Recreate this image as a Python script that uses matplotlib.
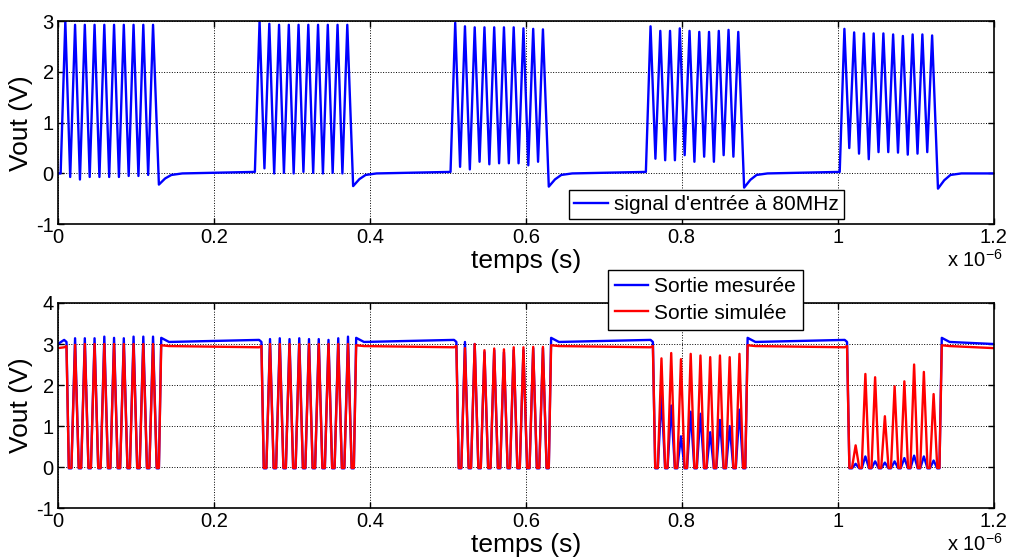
import matplotlib
matplotlib.use("Agg")
from matplotlib import pyplot as plt
from matplotlib.ticker import FormatStrFormatter

# Arial-like look of the original MATLAB figure
plt.rcParams['font.family'] = ['Liberation Sans', 'DejaVu Sans']
plt.rcParams['mathtext.fontset'] = 'custom'
plt.rcParams['mathtext.rm'] = 'Liberation Sans'
plt.rcParams['axes.unicode_minus'] = False  # MATLAB prints "-1" with a plain hyphen

# ---- data (time in microseconds, voltage in volts) ----
PERIOD = 0.0125  # 80 MHz

# input bursts: start of the rising edge
burst_start = [0.0035, 0.2526, 0.5035, 0.754, 1.0026]

# input signal: 10 peaks and 9 troughs per burst
in_peaks_1 = [3.0, 2.93, 2.93, 2.93, 2.93, 2.93, 2.93, 2.93, 2.93, 2.93]
in_peaks_2 = [3.0, 2.95, 2.93, 2.93, 2.93, 2.93, 2.93, 2.93, 2.93, 2.93]
in_peaks_3 = [2.97, 2.9, 2.88, 2.88, 2.88, 2.88, 2.88, 2.86, 2.85, 2.84]
in_peaks_4 = [2.9, 2.81, 2.81, 2.86, 2.81, 2.79, 2.79, 2.81, 2.83, 2.79]
in_peaks_5 = [2.85, 2.78, 2.76, 2.76, 2.76, 2.74, 2.71, 2.74, 2.74, 2.72]

in_troughs_1 = [-0.07, -0.12, -0.07, -0.07, -0.07, -0.07, -0.05, -0.05, -0.03]
in_troughs_2 = [0.1, 0.0, 0.01, 0.0, 0.03, 0.01, 0.0, 0.01, 0.0]
in_troughs_3 = [0.13, 0.08, 0.23, 0.18, 0.2, 0.2, 0.2, 0.16, 0.23]
in_troughs_4 = [0.29, 0.26, 0.26, 0.36, 0.23, 0.33, 0.23, 0.36, 0.33]
in_troughs_5 = [0.5, 0.39, 0.28, 0.42, 0.42, 0.41, 0.37, 0.39, 0.42]

in_undershoot = [-0.22, -0.25, -0.26, -0.28, -0.3]
in_idle = [0.0, 0.03, 0.03, 0.03, 0.03, 0.0]  # level before each burst / at the end

# output bursts: time of the falling edge
out_start = [0.011, 0.261, 0.511, 0.763, 1.012]

# output signal: 9 peaks per burst (troughs sit at ~0 V)
meas_peaks_1 = [3.14, 3.14, 3.14, 3.18, 3.15, 3.14, 3.18, 3.18, 3.18]
meas_peaks_2 = [3.12, 3.14, 3.12, 3.14, 3.12, 3.12, 3.1, 3.14, 3.18]
meas_peaks_3 = [3.05, 3.0, 2.8, 2.85, 2.8, 2.85, 2.85, 2.9, 2.9]
meas_peaks_4 = [1.75, 1.5, 0.75, 1.35, 1.3, 0.85, 1.15, 1.0, 1.4]
meas_peaks_5 = [0.08, 0.26, 0.14, 0.11, 0.14, 0.22, 0.28, 0.26, 0.16]

sim_peaks_1 = [2.98, 3.0, 3.0, 3.0, 3.0, 3.0, 3.0, 3.0, 3.0]
sim_peaks_2 = [3.0, 3.0, 3.0, 3.0, 3.0, 3.0, 3.0, 3.0, 3.0]
sim_peaks_3 = [2.9, 3.0, 2.85, 2.89, 2.87, 2.92, 2.92, 2.93, 2.93]
sim_peaks_4 = [2.65, 2.78, 2.63, 2.76, 2.72, 2.68, 2.72, 2.68, 2.76]
sim_peaks_5 = [0.53, 2.27, 2.19, 1.24, 1.97, 2.09, 2.5, 2.32, 1.78]

meas_idle, meas_overshoot, meas_floor = 3.05, 3.15, -0.03
sim_idle, sim_overshoot, sim_floor = 2.95, 2.97, -0.02

x_ticks = [0, 0.2, 0.4, 0.6, 0.8, 1.0, 1.2]


# Build the input trace as vertices: rise, peak/trough pairs, undershoot, recovery
def input_trace():
    peaks = [in_peaks_1, in_peaks_2, in_peaks_3, in_peaks_4, in_peaks_5]
    troughs = [in_troughs_1, in_troughs_2, in_troughs_3, in_troughs_4, in_troughs_5]
    t, v = [0.0], [in_idle[0]]
    for b, t0 in enumerate(burst_start):
        t.append(t0); v.append(in_idle[b])
        for k in range(10):
            t.append(t0 + 0.006 + k * PERIOD); v.append(peaks[b][k])
            if k < 9:
                t.append(t0 + 0.006 + (k + 0.5) * PERIOD); v.append(troughs[b][k])
        end = t0 + 0.126
        t += [end, end + 0.008, end + 0.016, end + 0.03]
        v += [in_undershoot[b], in_undershoot[b] * 0.45, -0.03, 0.0]
    t.append(1.2); v.append(in_idle[-1])
    return t, v


# Build an output trace: idle high, drop to 0, narrow peaks, back to idle
def output_trace(peak_lists, idle, overshoot, floor):
    t, v = [0.0], [idle - 0.05]
    for b, td in enumerate(out_start):
        t += [td - 0.003, td, td + 0.003]
        v += [overshoot - 0.05, idle, floor]
        for k, p in enumerate(peak_lists[b]):
            pk = td + 0.011 + k * PERIOD
            t += [pk - 0.0047, pk, pk + 0.0047]
            v += [floor, p, floor]
        ret = td + 0.1215
        t += [ret - 0.003, ret, ret + 0.01]
        v += [floor, overshoot, idle]
    t.append(1.2); v.append(idle - 0.05)
    return t, v


def style_axes(ax, ylim, yticks):
    ax.set_xlim(0, 1.2)
    ax.set_ylim(*ylim)
    ax.set_xticks(x_ticks)
    ax.set_yticks(yticks)
    ax.xaxis.set_major_formatter(FormatStrFormatter('%g'))
    ax.grid(True, color='k', linestyle=':', linewidth=0.7)
    ax.tick_params(direction='in', length=4, width=1, labelsize=14.5,
                   top=True, right=True, pad=3)
    for s in ax.spines.values():
        s.set_linewidth(1.2)
    ax.set_xlabel('temps (s)', fontsize=19, labelpad=1)
    ax.set_ylabel('Vout (V)', fontsize=19)
    ax.yaxis.set_label_coords(-0.027, 0.5)
    ax.text(1.01, -0.12, 'x 10$^{-6}$', transform=ax.transAxes,
            ha='right', va='top', fontsize=14.5)


def main():
    fig = plt.figure(figsize=(10.16, 5.59), dpi=100)
    ax1 = fig.add_axes([0.057, 0.599, 0.921, 0.363])
    ax2 = fig.add_axes([0.057, 0.091, 0.921, 0.367])

    # Top: input signal
    t_in, v_in = input_trace()
    ax1.plot(t_in, v_in, color=(0, 0, 1), lw=1.7, label="signal d'entrée à 80MHz")
    style_axes(ax1, (-1, 3), [-1, 0, 1, 2, 3])
    ax1.legend(loc='upper left', bbox_to_anchor=(0.560, 0.660), bbox_transform=fig.transFigure,
               fontsize=15, fancybox=False, edgecolor='k', framealpha=1,
               handlelength=1.6, handletextpad=0.3, borderpad=0.25, borderaxespad=0)

    # Bottom: measured and simulated outputs
    meas = [meas_peaks_1, meas_peaks_2, meas_peaks_3, meas_peaks_4, meas_peaks_5]
    sim = [sim_peaks_1, sim_peaks_2, sim_peaks_3, sim_peaks_4, sim_peaks_5]
    t_m, v_m = output_trace(meas, meas_idle, meas_overshoot, meas_floor)
    t_s, v_s = output_trace(sim, sim_idle, sim_overshoot, sim_floor)
    ax2.plot(t_m, v_m, color=(0, 0, 1), lw=1.7, label='Sortie mesurée')
    ax2.plot(t_s, v_s, color=(1, 0, 0), lw=1.7, label='Sortie simulée')
    style_axes(ax2, (-1, 4), [-1, 0, 1, 2, 3, 4])
    ax2.legend(loc='upper left', bbox_to_anchor=(0.598, 0.517), bbox_transform=fig.transFigure,
               fontsize=15, fancybox=False, edgecolor='k', framealpha=1,
               handlelength=1.6, handletextpad=0.3, borderpad=0.35, borderaxespad=0,
               labelspacing=0.35)

    fig.savefig('out.png', dpi=100)


if __name__ == "__main__":
    main()
